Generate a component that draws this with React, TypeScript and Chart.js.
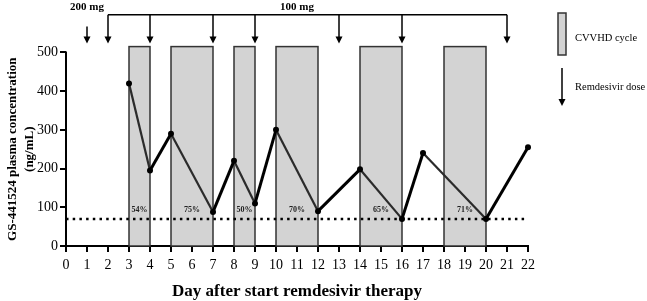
import React, { useEffect, useRef } from "react";
import { Chart, registerables } from "chart.js";

Chart.register(...registerables);

const days = [3, 4, 5, 7, 8, 9, 10, 12, 14, 16, 17, 20, 22];
const concentration = [420, 195, 290, 88, 220, 110, 300, 90, 198, 70, 240, 70, 255];
const cvvhdStart = [3, 5, 8, 10, 14, 18];
const cvvhdEnd = [4, 7, 9, 12, 16, 20];
const cvvhdRemoval = ["54%", "75%", "50%", "70%", "65%", "71%"];
const doseDays = [1, 2, 4, 7, 9, 13, 16, 21];
const loadingDoseLabel = "200 mg";
const maintenanceDoseLabel = "100 mg";
const loqValue = 70;
const yTicks = [0, 100, 200, 300, 400, 500];
const xTitle = "Day after start remdesivir therapy";
const yTitle = ["GS-441524 plasma concentration", "(ng/mL)"];

const SERIF = "'Liberation Serif', 'Times New Roman', serif";

function arrowHead(ctx: CanvasRenderingContext2D, x: number, y: number) {
  ctx.beginPath();
  ctx.moveTo(x - 3.5, y - 7);
  ctx.lineTo(x + 3.5, y - 7);
  ctx.lineTo(x, y);
  ctx.closePath();
  ctx.fill();
}

const overlay = {
  id: "overlay",
  beforeDatasetsDraw(chart: any) {
    const ctx: CanvasRenderingContext2D = chart.ctx;
    const xs = chart.scales.x;
    const ys = chart.scales.y;
    ctx.save();
    for (let i = 0; i < cvvhdStart.length; i++) {
      const x0 = xs.getPixelForValue(cvvhdStart[i]);
      const x1 = xs.getPixelForValue(cvvhdEnd[i]);
      const yTop = ys.getPixelForValue(515);
      const yBot = ys.getPixelForValue(0);
      ctx.fillStyle = "#d3d3d3";
      ctx.fillRect(x0, yTop, x1 - x0, yBot - yTop);
      ctx.strokeStyle = "#333";
      ctx.lineWidth = 1.5;
      ctx.strokeRect(x0, yTop, x1 - x0, yBot - yTop);
      ctx.fillStyle = "#222";
      ctx.font = `bold 8px ${SERIF}`;
      ctx.textAlign = "center";
      ctx.textBaseline = "middle";
      ctx.fillText(cvvhdRemoval[i], (x0 + x1) / 2, ys.getPixelForValue(92));
    }
    ctx.strokeStyle = "#000";
    ctx.lineWidth = 2;
    ctx.beginPath();
    ctx.moveTo(xs.getPixelForValue(0), ys.getPixelForValue(0));
    ctx.lineTo(xs.getPixelForValue(0), ys.getPixelForValue(500) - 1);
    ctx.stroke();
    ctx.restore();
  },
  afterDraw(chart: any) {
    const ctx: CanvasRenderingContext2D = chart.ctx;
    const xs = chart.scales.x;
    const ys = chart.scales.y;
    const area = chart.chartArea;
    ctx.save();
    ctx.strokeStyle = "#000";
    ctx.fillStyle = "#000";
    ctx.lineWidth = 1.5;
    const yBracket = ys.getPixelForValue(597);
    const yTip = ys.getPixelForValue(523);
    const yLoadStart = ys.getPixelForValue(567);
    ctx.beginPath();
    ctx.moveTo(xs.getPixelForValue(doseDays[1]), yBracket);
    ctx.lineTo(xs.getPixelForValue(doseDays[doseDays.length - 1]), yBracket);
    ctx.stroke();
    doseDays.forEach((d, i) => {
      const x = xs.getPixelForValue(d);
      ctx.beginPath();
      ctx.moveTo(x, i === 0 ? yLoadStart : yBracket);
      ctx.lineTo(x, yTip - 5);
      ctx.stroke();
      arrowHead(ctx, x, yTip);
    });
    ctx.font = `bold 11px ${SERIF}`;
    ctx.textAlign = "center";
    ctx.textBaseline = "middle";
    ctx.fillText(loadingDoseLabel, xs.getPixelForValue(doseDays[0]), ys.getPixelForValue(618));
    ctx.fillText(maintenanceDoseLabel, xs.getPixelForValue(11), ys.getPixelForValue(618));

    const lx = area.right + 30;
    ctx.fillStyle = "#d3d3d3";
    ctx.fillRect(lx, 13, 8, 42);
    ctx.strokeStyle = "#333";
    ctx.lineWidth = 1.5;
    ctx.strokeRect(lx, 13, 8, 42);
    ctx.fillStyle = "#000";
    ctx.strokeStyle = "#000";
    ctx.beginPath();
    ctx.moveTo(lx + 4, 68);
    ctx.lineTo(lx + 4, 100);
    ctx.stroke();
    arrowHead(ctx, lx + 4, 106);
    ctx.font = `10.5px ${SERIF}`;
    ctx.textAlign = "left";
    ctx.fillText("CVVHD cycle", lx + 17, 38);
    ctx.fillText("Remdesivir dose", lx + 17, 87);

    ctx.font = `bold 17px ${SERIF}`;
    ctx.textAlign = "center";
    ctx.fillText(xTitle, (area.left + area.right) / 2, 292);
    ctx.translate(0, ys.getPixelForValue(250));
    ctx.rotate(-Math.PI / 2);
    ctx.font = `bold 13px ${SERIF}`;
    ctx.fillText(yTitle[0], 0, 13);
    ctx.fillText(yTitle[1], 0, 30);
    ctx.restore();
  },
};

export default function App() {
  const ref = useRef<HTMLCanvasElement>(null);
  useEffect(() => {
    if (!ref.current) return;
    const chart = new Chart(ref.current, {
      type: "line",
      data: {
        datasets: [
          {
            data: days.map((d, i) => ({ x: d, y: concentration[i] })),
            borderColor: "#000",
            backgroundColor: "#000",
            borderWidth: 3,
            pointRadius: 3,
            pointBackgroundColor: "#000",
            pointBorderWidth: 0,
            clip: false,
            segment: {
              borderColor: (c: any) => (c.p1.parsed.y < c.p0.parsed.y ? "#2b2b2b" : "#000"),
              borderWidth: (c: any) => (c.p1.parsed.y < c.p0.parsed.y ? 2.2 : 3),
            },
          },
          {
            data: [
              { x: 0, y: loqValue },
              { x: 21.9, y: loqValue },
            ],
            borderColor: "#000",
            borderWidth: 2.5,
            borderDash: [2.5, 4.2],
            pointRadius: 0,
            clip: false,
          },
        ],
      },
      options: {
        responsive: false,
        animation: false,
        layout: { padding: { left: 0, right: 119, top: 0, bottom: 0 } },
        plugins: { legend: { display: false }, tooltip: { enabled: false } },
        scales: {
          x: {
            type: "linear",
            min: 0,
            max: 22,
            afterFit: (s: any) => {
              s.height = 55;
              s.paddingLeft = 0;
              s.paddingRight = 0;
            },
            ticks: {
              stepSize: 1,
              color: "#000",
              font: { family: SERIF, size: 14 },
              padding: 5,
              maxRotation: 0,
              autoSkip: false,
            },
            grid: { drawOnChartArea: false, drawTicks: true, tickLength: 6, color: "#000", lineWidth: 2 },
            border: { display: true, color: "#000", width: 2 },
          },
          y: {
            type: "linear",
            min: 0,
            max: 625,
            afterFit: (s: any) => {
              s.width = 66;
              s.paddingTop = 0;
              s.paddingBottom = 0;
            },
            afterBuildTicks: (s: any) => {
              s.ticks = yTicks.map((v) => ({ value: v }));
            },
            ticks: {
              color: "#000",
              font: { family: SERIF, size: 14 },
              padding: 2,
            },
            grid: { drawOnChartArea: false, drawTicks: true, tickLength: 6, color: "#000", lineWidth: 2 },
            border: { display: false },
          },
        },
      },
      plugins: [overlay],
    } as any);
    return () => chart.destroy();
  }, []);
  return (
    <div style={{ position: "fixed", left: 0, top: 0, width: 647, height: 301, background: "#fff" }}>
      <canvas ref={ref} width={647} height={301} style={{ width: 647, height: 301 }} />
    </div>
  );
}
